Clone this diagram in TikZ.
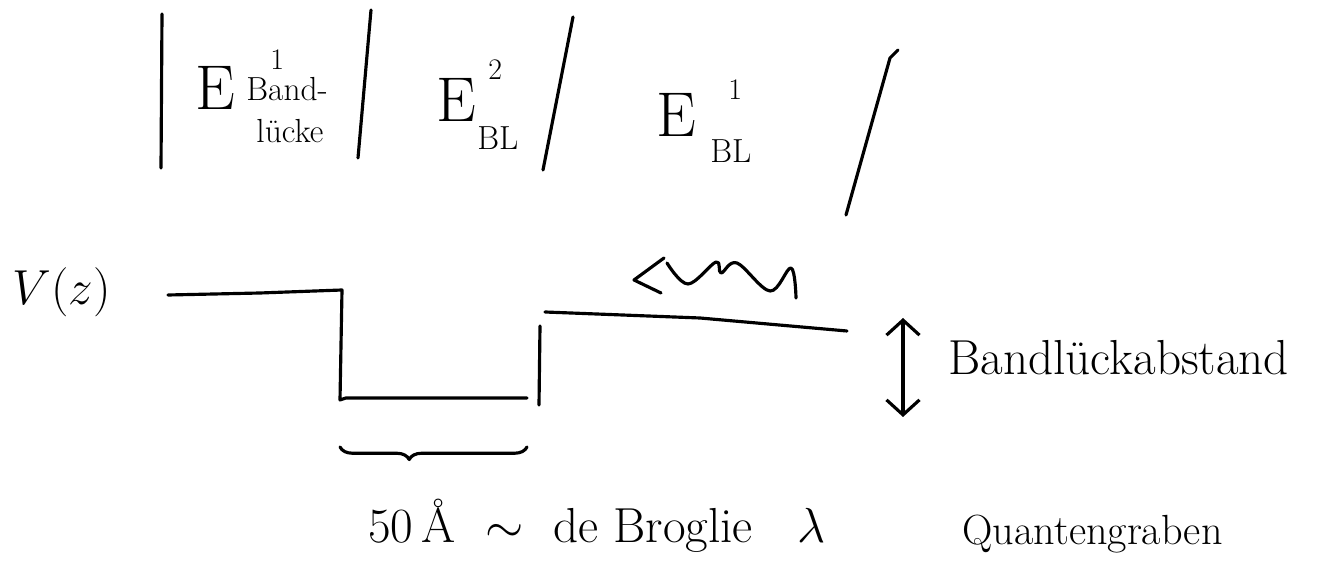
\RequirePackage{fix-cm}
\documentclass[tikz,border=0pt]{standalone}
\usepackage{tikz}
\usetikzlibrary{
    positioning,
    arrows.meta,
    decorations.pathreplacing
}
\tikzset{
    >=Stealth,
    hand/.style={line width=1.8pt, line cap=round, line join=round},
    txt/.style={inner sep=0pt, anchor=base west},
    gross/.style={txt, font=\fontsize{36}{40}\selectfont},
    hoch/.style={txt, font=\fontsize{17}{20}\selectfont},
    tief/.style={txt, align=left, font=\fontsize{19}{24}\selectfont},
    notiz/.style={txt, font=\fontsize{28}{32}\selectfont}
}

\begin{document}
\begin{tikzpicture}[x=0.02cm, y=-0.02cm]
    \useasboundingbox (0,0) rectangle (1342,573);

    % Trennstriche
    \draw[hand] (162,14) -- (161,168);
    \draw[hand] (371,10) -- (358,158);
    \draw[hand] (573,17) -- (543,170);
    \draw[hand] (898,50) -- (890,58) .. controls (874,115) .. (846,215);

    % Energien
    \node[gross] (e1) at (195,110) {E};
    \node[hoch] (e1hoch) at (270,70) {1};
    \node[tief] (e1tief) at (246,143) {Band-\\\ lücke};

    \node[gross] (e2) at (436,122) {E};
    \node[hoch] (e2hoch) at (488,80) {2};
    \node[tief] (e2tief) at (477,150) {BL};

    \node[gross] (e3) at (656,137) {E};
    \node[hoch] (e3hoch) at (728,100) {1};
    \node[tief] (e3tief) at (710,163) {BL};

    % Potential
    \node[notiz] (vz) at (12,305) {$V(z)$};
    \draw[hand] (168,295) -- (260,293) -- (342,290) -- (340,400)
        -- (346,398) -- (527,398);
    \draw[hand] (540,326) -- (539,405);
    \draw[hand] (545,312) -- (700,318) -- (847,331);

    % Welle
    \draw[hand] (661,293) -- (634,280) -- (664,258);
    \draw[hand] plot[smooth, tension=0.6] coordinates {(667,263) (688,284)
        (716,262) (721,273) (737,263) (770,291) (791,268) (796,298)};

    % Abstand
    \coordinate (oben) at (903,318);
    \coordinate (unten) at (903,417);
    \draw[hand, {Straight Barb[length=0.3cm, width=0.66cm]}-{Straight Barb[length=0.3cm, width=0.66cm]}]
        (oben) -- (unten);
    \node[notiz] (abstand) at (948,375) {Bandlückabstand};

    % Breite
    \coordinate (links) at (340,447);
    \coordinate (rechts) at (527,447);
    \draw[hand, decorate, decoration={brace, mirror, amplitude=0.25cm, aspect=0.37}]
        (links) -- (rechts);
    \node[notiz] (breite) at (368,543) {50\,Å\ \ $\sim$\ \ de Broglie\ \ \ $\lambda$};
    \node[txt, font=\fontsize{24}{28}\selectfont] (graben) at (962,545) {Quantengraben};

\end{tikzpicture}
\end{document}
